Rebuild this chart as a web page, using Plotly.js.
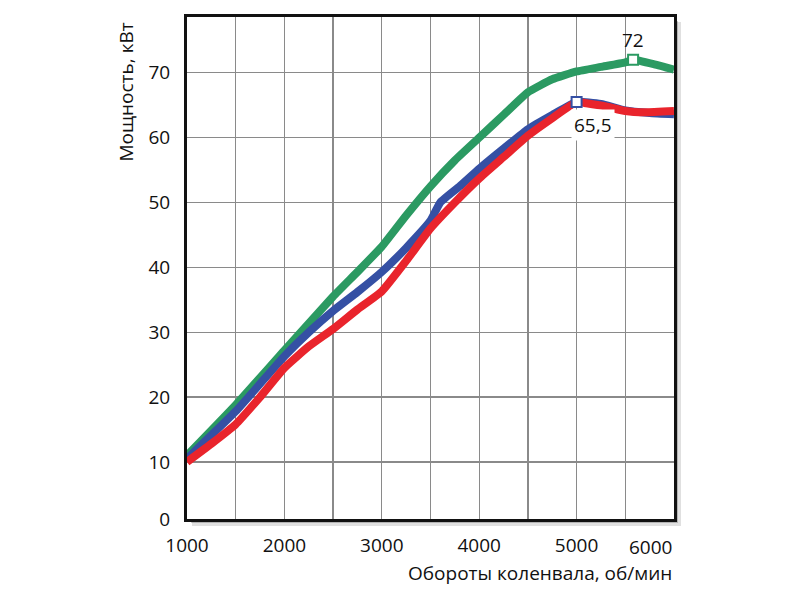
<!DOCTYPE html>
<html>
<head>
<meta charset="utf-8">
<script src="https://cdn.plot.ly/plotly-3.0.1.min.js"></script>
<style>html,body{margin:0;padding:0;background:#fff;}#chart{width:800px;height:600px;}</style>
</head>
<body>
<div id="chart"></div>
<script>
// Data
const greenRpm = [1000, 1500, 2000, 2500, 2750, 3000, 3250, 3500, 3750, 4000, 4250, 4500, 4750, 5000, 5250, 5500, 5580, 5800, 6000];
const greenKw  = [11.0, 18.8, 27.2, 35.5, 39.3, 43.2, 48.0, 52.5, 56.5, 60.0, 63.5, 67.0, 69.0, 70.2, 70.9, 71.6, 72.0, 71.3, 70.5];

const blueRpm = [1000, 1500, 2000, 2250, 2500, 2750, 3000, 3250, 3500, 3600, 3800, 4000, 4250, 4500, 4750, 5000, 5250, 5500, 5750, 6000];
const blueKw  = [10.5, 17.8, 26.3, 30.0, 33.3, 36.2, 39.3, 43.0, 47.2, 50.0, 52.5, 55.2, 58.3, 61.3, 63.5, 65.5, 65.2, 64.2, 63.8, 63.6];

const redRpm = [1000, 1250, 1500, 1750, 2000, 2250, 2500, 2750, 3000, 3250, 3500, 3750, 4000, 4250, 4500, 4750, 5000, 5100, 5300, 5500, 5700, 6000];
const redKw  = [10.0, 12.8, 15.8, 20.0, 24.5, 27.8, 30.5, 33.5, 36.3, 41.0, 46.0, 50.0, 53.7, 57.0, 60.3, 63.0, 65.5, 65.3, 64.8, 64.1, 63.9, 64.1];

const peakRpm = [5000, 5580];
const peakKw  = [65.5, 72];
const peakLabels = ['65,5', '72'];

const xTickVals = [1000, 1500, 2000, 2500, 3000, 3500, 4000, 4500, 5000, 5500];
const xTickText = ['1000', '', '2000', '', '3000', '', '4000', '', '5000', ''];
const lastXTick = 6000;
const yTickVals = [1.2, 10, 20, 30, 40, 50, 60, 70];
const yTickText = ['0', '10', '20', '30', '40', '50', '60', '70'];

const xTitle = 'Обороты коленвала, об/мин';
const yTitle = 'Мощность, кВт';

const FONT = 'Open Sans, Noto Sans, sans-serif';
const GREEN = '#2b9a62', BLUE = '#3550a4', RED = '#e9242c';

const lineStyle = c => ({color: c, width: 8, shape: 'spline', smoothing: 0.4});

const traces = [
  {x: greenRpm, y: greenKw, mode: 'lines', line: lineStyle(GREEN), hoverinfo: 'skip'},
  {x: blueRpm, y: blueKw, mode: 'lines', line: lineStyle(BLUE), hoverinfo: 'skip'},
  {x: redRpm, y: redKw, mode: 'lines', line: lineStyle(RED), hoverinfo: 'skip'},
  {x: [peakRpm[0]], y: [peakKw[0]], mode: 'markers',
   marker: {symbol: 'square', size: 10, color: '#fff', line: {color: BLUE, width: 2}}},
  {x: [peakRpm[1]], y: [peakKw[1]], mode: 'markers',
   marker: {symbol: 'square', size: 10, color: '#fff', line: {color: GREEN, width: 2}}}
];

const px = 1 / 487, py = 1 / 502;

const layout = {
  width: 800, height: 600,
  margin: {l: 187, r: 126, t: 17, b: 81},
  paper_bgcolor: '#fff', plot_bgcolor: '#fff',
  showlegend: false,
  font: {family: FONT, size: 19, color: '#111'},
  xaxis: {
    range: [1000, 6000], tickvals: xTickVals, ticktext: xTickText,
    showgrid: true, gridcolor: '#8a8a8a', gridwidth: 1.3,
    showline: true, linecolor: '#111', linewidth: 3, mirror: true,
    ticks: '', ticklabelstandoff: 7, zeroline: false,
    tickfont: {family: FONT, size: 19, color: '#111'}
  },
  yaxis: {
    range: [1.2, 78.6], tickvals: yTickVals, ticktext: yTickText,
    showgrid: true, gridcolor: '#8a8a8a', gridwidth: 1.3,
    showline: true, linecolor: '#111', linewidth: 3, mirror: true,
    ticks: '', ticklabelstandoff: 10, zeroline: false,
    tickfont: {family: FONT, size: 19, color: '#111'}
  },
  shapes: [
    // soft drop shadow on right and bottom edges
    {type: 'rect', xref: 'paper', yref: 'paper', layer: 'below',
     x0: 1 + 1 * px, x1: 1 + 7 * px, y0: -7 * py, y1: 1 - 5 * py,
     fillcolor: 'rgba(0,0,0,0.12)', line: {width: 0}},
    {type: 'rect', xref: 'paper', yref: 'paper', layer: 'below',
     x0: 5 * px, x1: 1 + 1 * px, y0: -7 * py, y1: -1 * py,
     fillcolor: 'rgba(0,0,0,0.12)', line: {width: 0}},
    {type: 'rect', xref: 'paper', yref: 'paper', layer: 'below',
     x0: 1 + 1 * px, x1: 1 + 4 * px, y0: -4 * py, y1: 1 - 4 * py,
     fillcolor: 'rgba(0,0,0,0.2)', line: {width: 0}},
    {type: 'rect', xref: 'paper', yref: 'paper', layer: 'below',
     x0: 4 * px, x1: 1 + 1 * px, y0: -4 * py, y1: -1 * py,
     fillcolor: 'rgba(0,0,0,0.2)', line: {width: 0}}
  ],
  annotations: [
    {x: peakRpm[1], y: peakKw[1], xref: 'x', yref: 'y', text: peakLabels[1], showarrow: false,
     yshift: 20, font: {family: FONT, size: 19, color: '#111'}},
    {x: peakRpm[0], y: peakKw[0], xref: 'x', yref: 'y', text: peakLabels[0], showarrow: false,
     xshift: 16, yshift: -23, bgcolor: '#fff', borderpad: 2,
     font: {family: FONT, size: 19, color: '#111'}},
    {x: lastXTick, y: 0, xref: 'x', yref: 'paper', text: String(lastXTick), showarrow: false,
     xanchor: 'right', yanchor: 'top', yshift: -13, font: {family: FONT, size: 19, color: '#111'}},
    {x: 1, y: 0, xref: 'paper', yref: 'paper', text: xTitle, showarrow: false,
     xanchor: 'right', yanchor: 'top', yshift: -39, font: {family: FONT, size: 19, color: '#111'}},
    {x: 0, y: 1, xref: 'paper', yref: 'paper', text: yTitle, showarrow: false, textangle: -90,
     xanchor: 'center', yanchor: 'top', xshift: -62, yshift: -4, font: {family: FONT, size: 19, color: '#111'}}
  ]
};

Plotly.newPlot('chart', traces, layout, {staticPlot: true, displayModeBar: false});
</script>
</body>
</html>
